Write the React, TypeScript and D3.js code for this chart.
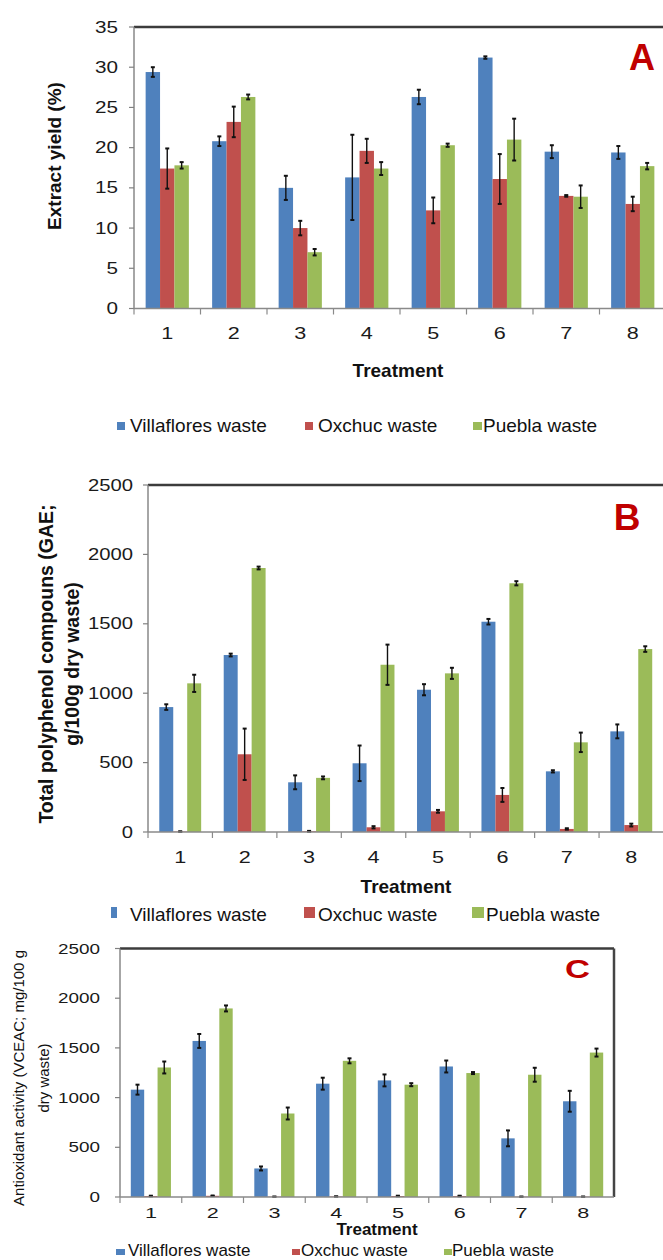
import React from "react";
import * as d3 from "d3";

// shared categories / series
const treatments = ["1", "2", "3", "4", "5", "6", "7", "8"];
const seriesNames = ["Villaflores waste", "Oxchuc waste", "Puebla waste"];
const seriesColors = ["#4F81BD", "#C0504D", "#9BBB59"];

// A: extract yield (%)
const yieldVillaflores = [29.4, 20.8, 15.0, 16.3, 26.3, 31.2, 19.5, 19.4];
const yieldVillafloresErr = [0.6, 0.6, 1.5, 5.3, 0.9, 0.15, 0.8, 0.8];
const yieldOxchuc = [17.4, 23.2, 10.0, 19.6, 12.2, 16.1, 14.0, 13.0];
const yieldOxchucErr = [2.5, 1.9, 0.9, 1.5, 1.6, 3.1, 0.1, 0.9];
const yieldPuebla = [17.8, 26.3, 7.0, 17.4, 20.3, 21.0, 13.9, 17.7];
const yieldPueblaErr = [0.4, 0.3, 0.4, 0.8, 0.2, 2.6, 1.4, 0.4];
const yieldTicks = [0, 5, 10, 15, 20, 25, 30, 35];

// B: total polyphenol compounds
const phenolVillaflores = [900, 1275, 358, 495, 1025, 1515, 437, 725];
const phenolVillafloresErr = [20, 10, 50, 128, 40, 20, 8, 50];
const phenolOxchuc = [3, 560, 5, 34, 149, 267, 22, 50];
const phenolOxchucErr = [2, 185, 3, 8, 10, 50, 5, 10];
const phenolPuebla = [1071, 1902, 390, 1205, 1143, 1792, 646, 1318];
const phenolPueblaErr = [62, 10, 10, 145, 40, 15, 70, 20];

// C: antioxidant activity
const antioxVillaflores = [1080, 1570, 287, 1140, 1173, 1313, 590, 963];
const antioxVillafloresErr = [50, 70, 20, 60, 60, 60, 80, 105];
const antioxOxchuc = [10, 12, 3, 5, 10, 10, 3, 3];
const antioxOxchucErr = [3, 3, 1, 1, 3, 3, 1, 1];
const antioxPuebla = [1303, 1897, 840, 1370, 1130, 1247, 1230, 1453];
const antioxPueblaErr = [60, 30, 60, 25, 15, 10, 70, 40];

const bigTicks = [0, 500, 1000, 1500, 2000, 2500];

const FONT = "'Liberation Sans', Arial, sans-serif";

const panels = [
  {
    letter: "A", letterX: 642, letterY: 70, letterSize: 36, letterW: 0,
    values: [yieldVillaflores, yieldOxchuc, yieldPuebla],
    errors: [yieldVillafloresErr, yieldOxchucErr, yieldPueblaErr],
    ticks: yieldTicks, max: 35,
    left: 134, right: 666, top: 27, bottom: 308.5, closedRight: false,
    tickSize: 16, tickCharW: 11.5, tickLabelX: 118,
    xLabelY: 333, xSize: 16, xCharW: 12,
    treatY: 377, treatX: 398, treatSize: 19,
    titles: ["Extract yield (%)"], titleX: [61], titleY: 156, titleSize: 19, titleBold: true,
    legendY: 431.5, legendSize: 19,
    legendSq: [[117, 422, 8, 8], [305, 422, 8, 8], [473, 422, 9, 8]],
    legendTx: [130, 318, 483],
  },
  {
    letter: "B", letterX: 627, letterY: 530, letterSize: 37, letterW: 0,
    values: [phenolVillaflores, phenolOxchuc, phenolPuebla],
    errors: [phenolVillafloresErr, phenolOxchucErr, phenolPueblaErr],
    ticks: bigTicks, max: 2500,
    left: 148, right: 663.5, top: 485, bottom: 832, closedRight: false,
    tickSize: 16, tickCharW: 11.25, tickLabelX: 133,
    xLabelY: 857, xSize: 16, xCharW: 12,
    treatY: 893, treatX: 406, treatSize: 19,
    titles: ["Total polyphenol compouns (GAE;", "g/100g dry waste)"], titleX: [53, 79], titleY: 664, titleSize: 19.5, titleBold: true,
    legendY: 920.5, legendSize: 19,
    legendSq: [[111, 907, 6, 11], [304, 907, 11, 11], [472, 907, 12, 11]],
    legendTx: [130, 318, 486],
  },
  {
    letter: "C", letterX: 577.5, letterY: 978, letterSize: 25, letterW: 25,
    values: [antioxVillaflores, antioxOxchuc, antioxPuebla],
    errors: [antioxVillafloresErr, antioxOxchucErr, antioxPueblaErr],
    ticks: bigTicks, max: 2500,
    left: 120, right: 614, top: 948.5, bottom: 1197, closedRight: true,
    tickSize: 14.5, tickCharW: 10.5, tickLabelX: 100,
    xLabelY: 1212, xSize: 15, xCharW: 12,
    treatY: 1235, treatX: 377, treatSize: 17,
    titles: ["Antioxidant activity (VCEAC; mg/100 g", "dry waste)"], titleX: [24, 49], titleY: 1078, titleSize: 15, titleBold: false,
    legendY: 1256, legendSize: 17,
    legendSq: [[116, 1249, 9, 6], [292, 1249, 8, 6], [444, 1249, 8, 6]],
    legendTx: [128, 301, 452],
  },
];

function Panel({ p }: { p: any }) {
  const x0 = d3
    .scaleBand()
    .domain(treatments)
    .range([p.left, p.right])
    .paddingInner(0.35)
    .paddingOuter(0.175);
  const x1 = d3.scaleBand().domain(seriesNames).range([0, x0.bandwidth()]);
  const y = d3.scaleLinear().domain([0, p.max]).range([p.bottom, p.top]);
  const step = x0.step();
  const frameRight = Math.min(p.right, 663);

  return (
    <g fontFamily={FONT}>
      {/* bars */}
      {seriesNames.map((s, si) =>
        treatments.map((t, i) => {
          const v = p.values[si][i];
          const bx = (x0(t) as number) + (x1(s) as number);
          return (
            <rect
              key={s + t}
              x={bx}
              y={y(v)}
              width={x1.bandwidth()}
              height={p.bottom - y(v)}
              fill={seriesColors[si]}
            />
          );
        })
      )}
      {/* error bars */}
      {seriesNames.map((s, si) =>
        treatments.map((t, i) => {
          const v = p.values[si][i];
          const e = p.errors[si][i];
          const cx = (x0(t) as number) + (x1(s) as number) + x1.bandwidth() / 2;
          return (
            <g key={"e" + s + t} stroke="#111" strokeWidth={1.4}>
              <line x1={cx} x2={cx} y1={y(v + e)} y2={y(Math.max(0, v - e))} />
              <line x1={cx - 2} x2={cx + 2} y1={y(v + e)} y2={y(v + e)} strokeWidth={2} />
              <line x1={cx - 2} x2={cx + 2} y1={y(Math.max(0, v - e))} y2={y(Math.max(0, v - e))} strokeWidth={2} />
            </g>
          );
        })
      )}
      {/* frame */}
      <line x1={p.left} x2={frameRight} y1={p.top} y2={p.top} stroke="#3c3c3c" strokeWidth={2.5} />
      {p.closedRight && (
        <line x1={p.right} x2={p.right} y1={p.top} y2={p.bottom} stroke="#444" strokeWidth={2.5} />
      )}
      <line x1={p.left} x2={p.left} y1={p.top} y2={p.bottom} stroke="#808080" strokeWidth={1.4} />
      <line x1={p.left} x2={frameRight} y1={p.bottom} y2={p.bottom} stroke="#8a8a8a" strokeWidth={1.4} />
      {/* y ticks */}
      {p.ticks.map((t: number) => (
        <g key={"yt" + t}>
          <line x1={p.left - 5} x2={p.left} y1={y(t)} y2={y(t)} stroke="#808080" strokeWidth={1.2} />
          <text
            x={p.tickLabelX}
            y={y(t)}
            textAnchor="end"
            dominantBaseline="central"
            fontSize={p.tickSize}
            fill="#1a1a1a"
            textLength={String(t).length * p.tickCharW}
            lengthAdjust="spacingAndGlyphs"
          >
            {t}
          </text>
        </g>
      ))}
      {/* x ticks */}
      {treatments.map((t, i) => (
        <line
          key={"xt" + t}
          x1={p.left + i * step}
          x2={p.left + i * step}
          y1={p.bottom}
          y2={p.bottom + 6}
          stroke="#8a8a8a"
          strokeWidth={1.2}
        />
      ))}
      {treatments.map((t) => (
        <text
          key={"xl" + t}
          x={(x0(t) as number) + x0.bandwidth() / 2}
          y={p.xLabelY}
          textAnchor="middle"
          dominantBaseline="central"
          fontSize={p.xSize}
          fill="#1a1a1a"
          textLength={p.xCharW}
          lengthAdjust="spacingAndGlyphs"
        >
          {t}
        </text>
      ))}
      <text x={p.treatX} y={p.treatY} textAnchor="middle" fontSize={p.treatSize} fontWeight="bold" fill="#111">
        Treatment
      </text>
      {/* y title */}
      {p.titles.map((tl: string, k: number) => (
        <text
          key={"ti" + k}
          transform={`translate(${p.titleX[k]},${p.titleY}) rotate(-90)`}
          textAnchor="middle"
          fontSize={p.titleSize}
          fontWeight={p.titleBold ? "bold" : "normal"}
          fill="#111"
        >
          {tl}
        </text>
      ))}
      {/* panel letter */}
      <text
        x={p.letterX}
        y={p.letterY}
        textAnchor="middle"
        fontSize={p.letterSize}
        fontWeight="bold"
        fill="#C00000"
        {...(p.letterW ? { textLength: p.letterW, lengthAdjust: "spacingAndGlyphs" } : {})}
      >
        {p.letter}
      </text>
      {/* legend */}
      {seriesNames.map((s, si) => (
        <g key={"lg" + s}>
          <rect
            x={p.legendSq[si][0]}
            y={p.legendSq[si][1]}
            width={p.legendSq[si][2]}
            height={p.legendSq[si][3]}
            fill={seriesColors[si]}
          />
          <text x={p.legendTx[si]} y={p.legendY} fontSize={p.legendSize} fill="#111">
            {s}
          </text>
        </g>
      ))}
    </g>
  );
}

export default function App() {
  return (
    <svg
      width={663}
      height={1260}
      viewBox="0 0 663 1260"
      style={{ position: "absolute", left: 0, top: 0, background: "#fff" }}
    >
      <rect x={0} y={0} width={663} height={1260} fill="#fff" />
      {panels.map((p) => (
        <Panel key={p.letter} p={p} />
      ))}
    </svg>
  );
}
